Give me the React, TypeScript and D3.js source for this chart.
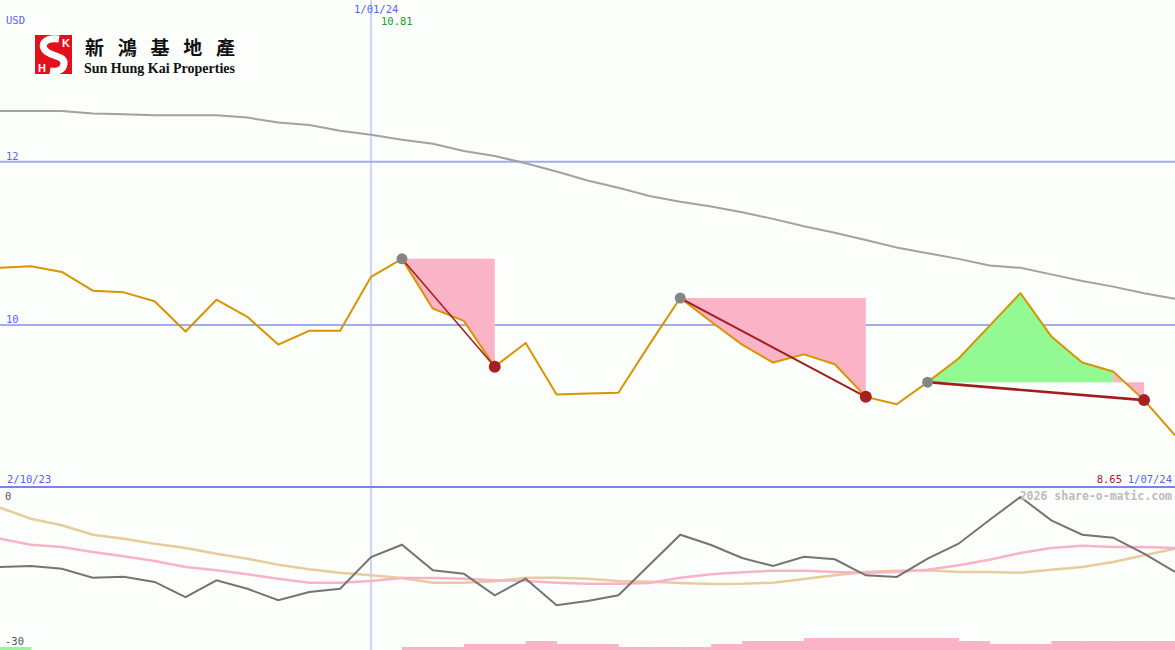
import React from "react";
import * as d3 from "d3";

// ---------- data ----------
const startLabel = "2/10/23";
const endLabel = "1/07/24";
const markerLabel = "1/01/24";
const markerIndex = 12;
const peakLabel = "10.81";
const lastLabel = "8.65";
const currencyLabel = "USD";
const priceTicks = [10, 12];
const lowerTicks = [0, -30];

// weekly close prices
const price = [
  10.70, 10.72, 10.65, 10.42, 10.40, 10.29, 9.92, 10.31, 10.10, 9.76,
  9.93, 9.93, 10.59, 10.81, 10.20, 10.05, 9.49, 9.78, 9.15, 9.16,
  9.17, 9.76, 10.33, 10.04, 9.76, 9.54, 9.64, 9.52, 9.12, 9.03,
  9.30, 9.59, 9.99, 10.39, 9.86, 9.54, 9.43, 9.08, 8.65,
];

// long moving average
const movingAvg = [
  12.62, 12.62, 12.62, 12.59, 12.58, 12.57, 12.57, 12.57, 12.54, 12.48,
  12.45, 12.38, 12.33, 12.27, 12.22, 12.13, 12.07, 11.98, 11.88, 11.77,
  11.68, 11.58, 11.51, 11.45, 11.38, 11.30, 11.21, 11.13, 11.04, 10.95,
  10.88, 10.81, 10.73, 10.70, 10.62, 10.54, 10.47, 10.39, 10.32,
];

// lower panel oscillator
const oscillator = [
  -14.72, -14.54, -15.04, -16.69, -16.51, -17.48, -20.25, -17.17, -18.72, -20.85,
  -19.33, -18.72, -12.88, -10.62, -15.33, -15.96, -19.93, -16.88, -21.77, -20.98,
  -19.93, -14.36, -8.78, -10.67, -13.07, -14.54, -12.83, -13.31, -16.25, -16.56,
  -13.20, -10.44, -6.07, -1.84, -6.13, -8.78, -9.33, -12.28, -15.64,
];
const slowSignal = [
  -3.81, -5.83, -7.05, -8.78, -9.52, -10.44, -11.23, -12.28, -13.20, -14.30,
  -15.15, -15.77, -16.25, -16.75, -17.61, -17.61, -17.36, -16.69, -16.69, -16.88,
  -17.30, -17.43, -17.67, -17.85, -17.80, -17.61, -16.93, -16.25, -15.65, -15.41,
  -15.33, -15.65, -15.65, -15.77, -15.22, -14.72, -13.80, -12.57, -11.36,
];
const fastSignal = [
  -9.52, -10.62, -11.04, -11.96, -12.76, -13.62, -14.72, -15.33, -16.07, -16.88,
  -17.61, -17.61, -17.30, -16.75, -16.75, -16.88, -17.17, -17.30, -17.61, -17.80,
  -17.80, -17.67, -16.69, -16.07, -15.70, -15.41, -15.41, -15.65, -15.77, -15.65,
  -15.22, -14.41, -13.38, -12.15, -11.23, -10.80, -11.04, -11.04, -11.23,
];
// bottom strength bars (weekly)
const barsUp = [
  1, 0, 0, 0, 0, 0, 0, 0, 0, 0, 0, 0, 0, 0, 0, 0, 0, 0, 0, 0,
  0, 0, 0, 0, 0, 0, 0, 0, 0, 0, 0, 0, 0, 0, 0, 0, 0, 0, 0,
];
const barsDown = [
  0, 0, 0, 0, 0, 0, 0, 0, 0, 0, 0, 0, 0, 1, 1, 2, 2, 3, 2, 2,
  1, 1, 1, 2, 3, 3, 4, 4, 4, 4, 4, 3, 2, 2, 3, 3, 3, 3, 0,
];
// trend patterns: [start index, end index]
const patternStart = [13, 22, 30];
const patternEnd = [16, 28, 37];

// ---------- chart ----------
const W = 1175;
const H = 650;

export default function App() {
  const n = price.length;
  const x = d3.scaleLinear().domain([0, n - 1]).range([0, W]);
  const y = d3.scaleLinear().domain([10, 12]).range([325, 161.7]);
  const yl = d3.scaleLinear().domain([0, -30]).range([487, 650]);
  const barH = d3.scaleLinear().domain([0, 4]).range([0, 12]);
  const bw = x(1) - x(0);

  const priceLine = d3.line<number>().x((_, i) => x(i)).y((d) => y(d));
  const lowerLine = d3.line<number>().x((_, i) => x(i)).y((d) => yl(d));

  const pink = "#fbb3c7";
  const green = "#93f993";
  const blue = "#5563f5";
  const mono = "'DejaVu Sans Mono', monospace";

  // pattern fills, grouped in same-colour runs
  const fills: { d: string; c: string }[] = [];
  patternStart.forEach((s, k) => {
    const e = patternEnd[k];
    const base = price[s];
    let runStart = s;
    let runColor: string | null = null;
    const flush = (a: number, b: number, c: string) => {
      const pts: [number, number][] = [];
      for (let i = a; i <= b; i++) pts.push([x(i), y(price[i])]);
      pts.push([x(b), y(base)]);
      pts.push([x(a), y(base)]);
      fills.push({ d: "M" + pts.map((p) => p.join(",")).join("L") + "Z", c });
    };
    for (let i = s; i < e; i++) {
      const c = price[i + 1] > base ? green : pink;
      if (runColor === null) runColor = c;
      if (c !== runColor) {
        flush(runStart, i, runColor);
        runStart = i;
        runColor = c;
      }
    }
    if (runColor) flush(runStart, e, runColor);
  });
  const connectorWidth = [1.5, 2, 2.6];

  return (
    <svg
      width={W}
      height={H}
      style={{ position: "absolute", left: 0, top: 0, background: "#fbfefb" }}
    >
      <rect x={0} y={0} width={W} height={H} fill="#fbfefb" />

      {/* grid */}
      {priceTicks.map((t) => (
        <line key={t} x1={0} x2={W} y1={y(t)} y2={y(t)} stroke="#a3acf2" strokeWidth={2} />
      ))}
      <line x1={x(markerIndex)} x2={x(markerIndex)} y1={0} y2={H} stroke="#a3acf2" strokeWidth={1} />
      <line x1={0} x2={W} y1={487} y2={487} stroke="#7684f2" strokeWidth={2} />

      {/* moving average */}
      <path d={priceLine(movingAvg) || ""} fill="none" stroke="#a2a2a2" strokeWidth={2} />

      {/* pattern fills */}
      {fills.map((f, i) => (
        <path key={i} d={f.d} fill={f.c} stroke="none" />
      ))}

      {/* price */}
      <path d={priceLine(price) || ""} fill="none" stroke="#d99400" strokeWidth={2} strokeLinejoin="round" />

      {/* connectors and dots */}
      {patternStart.map((s, k) => {
        const e = patternEnd[k];
        return (
          <g key={k}>
            <line
              x1={x(s)}
              y1={y(price[s])}
              x2={x(e)}
              y2={y(price[e])}
              stroke="#a21e1e"
              strokeWidth={connectorWidth[k]}
            />
            <circle cx={x(s)} cy={y(price[s])} r={5.5} fill="#858585" />
            <circle cx={x(e)} cy={y(price[e])} r={6} fill="#a62222" />
          </g>
        );
      })}

      {/* lower panel */}
      <path d={lowerLine(slowSignal) || ""} fill="none" stroke="#e6cd9b" strokeWidth={2.5} />
      <path d={lowerLine(fastSignal) || ""} fill="none" stroke="#f9b2c8" strokeWidth={2.5} />
      <path d={lowerLine(oscillator) || ""} fill="none" stroke="#747474" strokeWidth={2} />

      {barsDown.map((v, i) =>
        v > 0 ? (
          <rect key={"d" + i} x={x(i)} y={H - barH(v)} width={bw + 0.5} height={barH(v)} fill={pink} />
        ) : null
      )}
      {barsUp.map((v, i) =>
        v > 0 ? (
          <rect key={"u" + i} x={x(i)} y={H - barH(v)} width={bw + 0.5} height={barH(v)} fill={green} />
        ) : null
      )}

      {/* labels */}
      <g fontFamily={mono} fontSize={10.5}>
        <text x={6} y={24} fill={blue}>{currencyLabel}</text>
        {priceTicks.map((t) => (
          <text key={t} x={6} y={y(t) - 2} fill={blue}>{t}</text>
        ))}
        <text x={x(markerIndex) - 17} y={13} fill={blue}>{markerLabel}</text>
        <text x={x(markerIndex) + 10} y={25} fill="#20a020">{peakLabel}</text>
        <text x={7} y={483} fill={blue}>{startLabel}</text>
        <text x={1172} y={483} fill={blue} textAnchor="end">{endLabel}</text>
        <text x={1122} y={483} fill="#a01c1c" textAnchor="end">{lastLabel}</text>
        <text x={5} y={500} fill="#555">{lowerTicks[0]}</text>
        <text x={5} y={645} fill="#555">{lowerTicks[1]}</text>
        <text x={1172} y={500} fill="#bcbcbc" textAnchor="end" fontWeight="bold" fontSize={11.5}>
          2026 share-o-matic.com
        </text>
      </g>

      {/* logo */}
      <g>
        <rect x={35} y={35} width={37} height={39} fill="#e3101c" />
        <path
          d="M59 39 C 44 37, 39 46, 47 52 C 54 57, 65 56, 64 64 C 63 71, 56 72, 50 71"
          fill="none"
          stroke="#fff"
          strokeWidth={7}
        />
        <text x={62} y={47} fill="#fff" fontFamily="Liberation Sans, Arial" fontWeight="bold" fontSize={11}>K</text>
        <text x={38} y={72} fill="#fff" fontFamily="Liberation Sans, Arial" fontWeight="bold" fontSize={11}>H</text>
        <text
          x={85}
          y={55}
          fontFamily="'Noto Sans CJK TC', 'Noto Sans CJK SC', sans-serif"
          fontWeight="bold"
          fontSize={19}
          fill="#111"
          textLength={150}
          lengthAdjust="spacing"
        >
          新鴻基地產
        </text>
        <text
          x={84}
          y={73}
          fontFamily="'Liberation Serif', serif"
          fontWeight="bold"
          fontSize={14}
          fill="#111"
          textLength={151}
          lengthAdjust="spacingAndGlyphs"
        >
          Sun Hung Kai Properties
        </text>
      </g>
    </svg>
  );
}
